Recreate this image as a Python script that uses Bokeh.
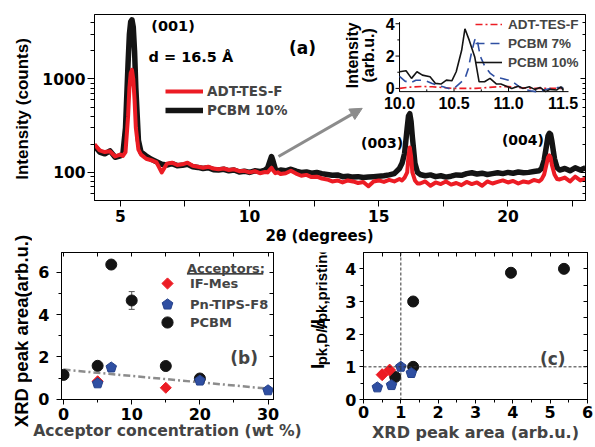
import math
from bokeh.plotting import figure
from bokeh.layouts import column, row
from bokeh.models import (Range1d, LinearScale, LogAxis, LinearAxis, FixedTicker,
                          PrintfTickFormatter, Legend, LegendItem, Label, Arrow, Title,
                          NormalHead, Span, Whisker, TeeHead, ColumnDataSource)
from bokeh.embed import file_html
from bokeh.resources import INLINE
from bokeh.core.properties import value

# ------------------------------------------------------------------ data
# (a) XRD scans, 2theta (deg) vs intensity (counts)
two_theta = [4.0, 4.2, 4.4, 4.6, 4.8, 5.0,
             5.1, 5.2, 5.3, 5.35, 5.4, 5.45, 5.5, 5.55, 5.6, 5.7, 5.8,
             6.0, 6.2, 6.4, 6.6, 6.8, 7.0, 7.2, 7.4, 7.6, 7.8, 8.0, 8.2, 8.4, 8.6, 8.8,
             9.0, 9.2, 9.4, 9.6, 9.8, 10.0, 10.2, 10.4, 10.6,
             10.7, 10.8, 10.85, 10.9, 11.0, 11.1,
             11.2, 11.4, 11.6, 11.8, 12.0, 12.2, 12.4, 12.6, 12.8, 13.0, 13.2, 13.4,
             13.6, 13.8, 14.0, 14.2, 14.4, 14.6, 14.8, 15.0, 15.2, 15.4, 15.6, 15.8,
             15.9, 16.0, 16.1, 16.15, 16.2, 16.25, 16.3, 16.4, 16.5,
             16.6, 16.8, 17.0, 17.2, 17.4, 17.6, 17.8, 18.0, 18.2, 18.4, 18.6, 18.8,
             19.0, 19.2, 19.4, 19.6, 19.8, 20.0, 20.2, 20.4, 20.6, 20.8, 21.0, 21.2,
             21.3, 21.4, 21.5, 21.55, 21.6, 21.65, 21.7, 21.8, 21.9,
             22.0, 22.2, 22.4, 22.6, 22.8, 23.0]
int_adt = [200, 172, 165, 168, 148, 155,
           150, 165, 400, 800, 1150, 1250, 1000, 600, 300, 175, 155,
           140, 135, 128, 100, 124, 127, 120, 122, 127, 118, 115, 112, 115, 110, 108,
           110, 106, 108, 103, 104, 100, 103, 98, 101,
           100, 108, 112, 106, 98, 100,
           96, 98, 104, 97, 92, 94, 89, 90, 86, 84, 80, 82,
           78, 82, 80, 77, 79, 71, 80, 82, 79, 83, 80, 85,
           82, 88, 100, 150, 185, 150, 100, 82, 76,
           76, 80, 72, 78, 75, 80, 74, 77, 73, 79, 75, 78,
           72, 80, 76, 79, 82, 78, 81, 76, 80, 78, 83, 80,
           84, 95, 125, 145, 152, 145, 120, 95, 85,
           84, 88, 80, 90, 82, 86]
int_pcbm10 = [192, 165, 158, 170, 145, 150,
              160, 300, 1500, 3000, 4100, 4300, 3600, 2000, 800, 220, 165,
              150, 138, 130, 122, 120, 124, 118, 119, 122, 115, 113, 110, 112, 107, 106,
              108, 104, 106, 101, 103, 100, 104, 102, 106,
              112, 135, 148, 135, 108, 104,
              106, 104, 108, 103, 100, 101, 98, 100, 97, 95, 93, 94,
              90, 91, 89, 90, 88, 89, 90, 91, 92, 94, 97, 110,
              125, 160, 300, 400, 425, 350, 240, 125, 100,
              95, 92, 94, 90, 92, 89, 91, 94, 93, 97, 99, 96,
              98, 95, 97, 99, 97, 100, 98, 101, 99, 100, 102, 104,
              110, 135, 200, 245, 262, 255, 215, 140, 112,
              106, 110, 104, 112, 106, 112]

# inset of (a): zoom on 10-11.5 deg, intensity (arb.u.)
ins_x_adt = [10.0, 10.1, 10.2, 10.3, 10.4, 10.5, 10.6, 10.7, 10.8, 10.9, 11.0, 11.1, 11.2, 11.3, 11.4, 11.5]
ins_y_adt = [0.0, 0.08, 0.12, 0.1, 0.05, 0.0, 0.0, 0.0, 0.05, 0.1, 0.12, 0.05, 0.0, 0.0, 0.0, 0.0]
ins_x_p7 = [10.0, 10.05, 10.1, 10.15, 10.2, 10.25, 10.3, 10.35, 10.4, 10.45, 10.5, 10.55, 10.6, 10.63,
            10.66, 10.69, 10.71, 10.74, 10.78, 10.83, 10.88, 10.95, 11.0, 11.05, 11.1, 11.15, 11.2,
            11.25, 11.3, 11.35, 11.4, 11.45, 11.5]
ins_y_p7 = [0.75, 0.45, 0.35, 0.5, 0.5, 0.45, 0.3, 0.2, 0.1, 0.0, 0.0, 0.3, 0.6, 1.2,
            2.2, 3.0, 3.1, 2.0, 1.4, 0.95, 0.7, 0.6, 0.5, 0.35, 0.1, -0.05, -0.15,
            -0.2, -0.15, -0.05, 0.0, 0.05, 0.05]
ins_x_p10 = [10.0, 10.06, 10.11, 10.16, 10.21, 10.28, 10.33, 10.38, 10.43, 10.48, 10.52, 10.57,
             10.60, 10.64, 10.69, 10.73, 10.78, 10.83, 10.89, 10.93, 10.98, 11.03, 11.09, 11.13,
             11.19, 11.24, 11.29, 11.34, 11.38, 11.44, 11.48, 11.5]
ins_y_p10 = [1.03, 1.09, 0.62, 1.03, 0.82, 0.72, 0.31, 0.27, 0.51, 0.47, 1.03, 2.36,
             3.69, 2.97, 1.95, 0.41, 0.41, 0.62, 0.27, 0.27, 0.14, 0.0, 0.14, 0.0,
             0.1, -0.06, 0.06, -0.2, -0.06, -0.1, 0.1, -0.1]
ins_xticks = [10.0, 10.5, 11.0, 11.5]
ins_xtick_labels = ["10.0", "10.5", "11.0", "11.5"]
ins_xminor = [10.25, 10.75, 11.25]
ins_yticks = [0, 2, 4]
ins_ytick_labels = ["0", "2", "4"]
ins_yminor = [1, 3]

# (b) XRD peak area vs acceptor concentration (wt %)
conc_pcbm = [0, 5, 7, 10, 15, 20]
area_pcbm = [1.15, 1.58, 6.37, 4.67, 1.57, 0.98]
err_pcbm = [0, 0, 0, 0.42, 0, 0]
conc_ifmes = [5, 15]
area_ifmes = [0.85, 0.54]
conc_pn = [5, 7, 20, 30]
area_pn = [0.75, 1.5, 0.88, 0.42]
fit_conc = [0, 30]
fit_area = [1.4, 0.5]

# (c) Ipk ratio vs XRD peak area
c_area_pcbm = [3.95, 5.37, 1.33, 1.33, 0.85]
c_ratio_pcbm = [3.88, 4.0, 3.0, 1.0, 0.69]
c_area_ifmes = [0.5, 0.7]
c_ratio_ifmes = [0.76, 0.9]
c_area_pn = [1.0, 1.28, 0.37, 0.75]
c_ratio_pn = [1.0, 0.81, 0.37, 0.44]

# ------------------------------------------------------------------ style
RED = "#ec1c24"
BLACK = "#141414"
BLUE = "#2f4fa2"
BLUE_EDGE = "#24408a"
GRAY = "#8c8c8c"
HF = "DejaVu Sans"
VF = "Liberation Sans"


def base_fig(**kw):
    p = figure(output_backend="svg", toolbar_location=None,
               background_fill_color="white", border_fill_color="white",
               outline_line_color="black", outline_line_width=1, **kw)
    p.grid.visible = False
    return p


def text_strip(width, height, x0, y0):
    """blank figure whose data coordinates are page pixels (y grows downward)"""
    s = figure(width=width, height=height, x_range=Range1d(x0, x0 + width),
               y_range=Range1d(y0 + height, y0), output_backend="svg", toolbar_location=None,
               x_axis_location=None, y_axis_location=None, min_border=0,
               min_border_left=0, min_border_right=0, min_border_top=0, min_border_bottom=0,
               outline_line_color=None, background_fill_color="white",
               border_fill_color="white")
    s.grid.visible = False
    return s


def title_strip(width, height, text, size, mb_top, mb_bottom, standoff):
    """narrow figure carrying only a vertical axis title"""
    s = figure(width=width, height=height, x_range=Range1d(0, 1), y_range=Range1d(0, 1),
               output_backend="svg", toolbar_location=None, x_axis_location=None,
               y_axis_location="left", min_border_left=width - 1, min_border_right=0,
               min_border_top=mb_top, min_border_bottom=mb_bottom, outline_line_color=None,
               background_fill_color="white", border_fill_color="white")
    s.grid.visible = False
    ax = s.yaxis[0]
    ax.ticker = FixedTicker(ticks=[])
    ax.major_tick_out = 0
    ax.major_tick_in = 0
    ax.minor_tick_out = 0
    ax.minor_tick_in = 0
    ax.axis_line_color = None
    ax.major_label_text_font_size = "1px"
    ax.major_label_text_alpha = 0
    ax.major_label_standoff = 0
    ax.axis_label = text
    ax.axis_label_text_font = VF
    ax.axis_label_text_font_style = "bold"
    ax.axis_label_text_font_size = size
    ax.axis_label_text_color = "black"
    ax.axis_label_standoff = standoff
    return s


def style_main_axis(ax, size, tick_out, minor_out, standoff):
    ax.major_label_text_font = HF
    ax.major_label_text_font_style = "bold"
    ax.major_label_text_font_size = size
    ax.major_label_text_color = "black"
    ax.major_tick_out = tick_out
    ax.major_tick_in = 0
    ax.minor_tick_out = minor_out
    ax.minor_tick_in = 0
    ax.major_label_standoff = standoff
    ax.axis_line_color = "black"
    ax.major_tick_line_color = "black"
    ax.minor_tick_line_color = "black"


def inner_axis(cls, ticker, tick_in, minor_in=0):
    return cls(ticker=ticker, major_label_text_font_size="1px", major_label_text_alpha=0,
               major_label_standoff=0, major_tick_in=tick_in, major_tick_out=0,
               minor_tick_in=minor_in, minor_tick_out=0, axis_line_color="black")


def diamonds(p, xs, ys, r):
    if hasattr(p, "ngon"):
        return p.ngon(x=xs, y=ys, radius=r, radius_units="screen", n=4,
                      fill_color=RED, line_color=RED)
    return p.scatter(xs, ys, marker="square", angle=math.pi / 4, size=1.4 * r,
                     fill_color=RED, line_color=RED)


def pentagons(p, xs, ys, r):
    if hasattr(p, "ngon"):
        return p.ngon(x=xs, y=ys, radius=r, radius_units="screen", n=5,
                      fill_color=BLUE, line_color=BLUE_EDGE)
    return p.scatter(xs, ys, marker="hex", size=2 * r, fill_color=BLUE, line_color=BLUE_EDGE)


# ------------------------------------------------------------------ left strips: y titles
LW = 32
ps1 = title_strip(LW, 225, "Intensity (counts)", "17px", 0, 8, 0)
ps2 = title_strip(LW, 222, "XRD peak area(arb.u.)", "18.5px", 0, 11, 0)

# ------------------------------------------------------------------ (a)
pa = base_fig(width=595 - LW, height=244, x_range=Range1d(4, 23), y_range=Range1d(50, 4900),
              y_axis_type="log", min_border_left=94 - LW, min_border_right=10,
              min_border_top=14, min_border_bottom=43)
xa = pa.xaxis[0]
xa.ticker = FixedTicker(ticks=[5, 10, 15, 20], minor_ticks=[7.5, 12.5, 17.5, 22.5])
style_main_axis(xa, "15.5px", 6, 6, 3)
pa.add_layout(Title(text="2θ (degrees)", align="left", offset=171, standoff=0,
                    text_font=HF, text_font_style="bold", text_font_size="15px",
                    text_color="black"), "below")
ya = pa.yaxis[0]
y_ticker = FixedTicker(ticks=[100, 1000],
                       minor_ticks=[60, 70, 80, 90, 200, 300, 400, 500, 600, 700, 800, 900,
                                    2000, 3000, 4000])
ya.ticker = y_ticker
ya.formatter = PrintfTickFormatter(format="%d")
style_main_axis(ya, "15.5px", 7, 4, 2)
pa.add_layout(inner_axis(LogAxis, y_ticker, 5, 3), "right")

r_black = pa.line(two_theta, int_pcbm10, line_color=BLACK, line_width=5.5, line_join="round")
r_red = pa.line(two_theta, int_adt, line_color=RED, line_width=4, line_join="round")

leg_a = Legend(items=[LegendItem(label="ADT-TES-F", renderers=[r_red]),
                      LegendItem(label="PCBM 10%", renderers=[r_black])],
               location=(71, 82), glyph_width=38, glyph_height=16, label_height=16,
               spacing=3, padding=0, margin=0, label_standoff=4,
               label_text_font=HF, label_text_font_style="bold", label_text_font_size="13.5px",
               border_line_color=None, background_fill_alpha=0)
pa.add_layout(leg_a, "center")

for txt, x, y, size, align in [("(001)", 7.04, 3666, "14.5px", "center"),
                               ("d = 16.5 Å", 6.09, 1706, "14.5px", "left"),
                               ("(a)", 12.05, 2153, "17px", "center"),
                               ("(003)", 15.13, 205, "14px", "center"),
                               ("(004)", 20.58, 223, "14px", "center")]:
    pa.add_layout(Label(x=x, y=y, text=txt, text_font=HF, text_font_style="bold",
                        text_font_size=size, text_align=align, text_baseline="middle",
                        text_color="black"))

pa.add_layout(Arrow(end=NormalHead(size=12, fill_color=GRAY, line_color=GRAY),
                    x_start=11.12, y_start=148, x_end=14.36, y_end=485,
                    line_color=GRAY, line_width=3))

# inset drawn on its own ranges inside frame (a)
pa.extra_x_ranges = {"ix": Range1d(7.202, 11.706)}
pa.extra_y_ranges = {"iy": Range1d(-6.935, 4.572)}
pa.extra_y_scales = {"iy": LinearScale()}
IR = dict(x_range_name="ix", y_range_name="iy")
X0, Y0 = 10.0, -0.2
pa.segment(x0=[X0, X0], y0=[Y0, Y0], x1=[11.55, X0], y1=[Y0, 4.1], line_color="black",
           line_width=1, **IR)
pa.segment(x0=ins_xticks, y0=[Y0] * len(ins_xticks), x1=ins_xticks,
           y1=[Y0 + 0.25] * len(ins_xticks), line_color="black", line_width=1, **IR)
pa.segment(x0=ins_xminor, y0=[Y0] * len(ins_xminor), x1=ins_xminor,
           y1=[Y0 + 0.14] * len(ins_xminor), line_color="black", line_width=1, **IR)
pa.segment(x0=[X0 - 0.037] * len(ins_yticks), y0=ins_yticks, x1=[X0] * len(ins_yticks),
           y1=ins_yticks, line_color="black", line_width=1, **IR)
pa.segment(x0=[X0 - 0.02] * len(ins_yminor), y0=ins_yminor, x1=[X0] * len(ins_yminor),
           y1=ins_yminor, line_color="black", line_width=1, **IR)
pa.text(x=ins_xticks, y=[-0.93] * len(ins_xticks), text=ins_xtick_labels,
        text_font=value(VF), text_font_style="bold", text_font_size="16px",
        text_align="center", text_baseline="middle", text_color="black", **IR)
pa.text(x=[9.955] * len(ins_yticks), y=ins_yticks, text=ins_ytick_labels,
        text_font=value(VF), text_font_style="bold", text_font_size="16px",
        text_align="right", text_baseline="middle", text_color="black", **IR)
pa.text(x=[9.569, 9.716], y=[2.05, 2.05], text=["Intensity", "(arb.u.)"], angle=math.pi / 2,
        text_font=value(VF), text_font_style="bold", text_font_size="16px",
        text_align="center", text_baseline="middle", text_color="black", **IR)

ri_adt = pa.line(ins_x_adt, ins_y_adt, line_color=RED, line_width=1.6, line_dash="7 3 2 3", **IR)
ri_p7 = pa.line(ins_x_p7, ins_y_p7, line_color=BLUE, line_width=1.6, line_dash="9 6", **IR)
ri_p10 = pa.line(ins_x_p10, ins_y_p10, line_color=BLACK, line_width=1.6, **IR)

leg_i = Legend(items=[LegendItem(label="ADT-TES-F", renderers=[ri_adt]),
                      LegendItem(label="PCBM 7%", renderers=[ri_p7]),
                      LegendItem(label="PCBM 10%", renderers=[ri_p10])],
               location=(381, 130), glyph_width=27, glyph_height=16, label_height=16,
               spacing=3, padding=0, margin=0, label_standoff=6,
               label_text_font=VF, label_text_font_style="bold", label_text_font_size="13.5px",
               border_line_color=None, background_fill_alpha=0)
pa.add_layout(leg_i, "center")

# ------------------------------------------------------------------ (b)
PB_RIGHT = 302
pb = base_fig(width=PB_RIGHT - LW, height=203, x_range=Range1d(-0.3, 30.8),
              y_range=Range1d(-0.014, 6.94), min_border_left=61 - LW,
              min_border_right=PB_RIGHT - 273, min_border_top=8, min_border_bottom=45)
xb = pb.xaxis[0]
xb.ticker = FixedTicker(ticks=[0, 10, 20, 30], minor_ticks=[5, 15, 25])
style_main_axis(xb, "16px", 5, 3, 3)
xb.axis_label = "Acceptor concentration (wt %)"
xb.axis_label_text_font = HF
xb.axis_label_text_font_style = "bold"
xb.axis_label_text_font_size = "15.6px"
xb.axis_label_standoff = -1
yb = pb.yaxis[0]
yb.ticker = FixedTicker(ticks=[0, 2, 4, 6], minor_ticks=[1, 3, 5])
style_main_axis(yb, "16px", 5, 3, 7)
pb.add_layout(inner_axis(LinearAxis, FixedTicker(ticks=[0, 5, 10, 15, 20, 25, 30]), 4), "above")
pb.add_layout(inner_axis(LinearAxis, FixedTicker(ticks=[0, 1, 2, 3, 4, 5, 6]), 4), "right")

pb.line(fit_conc, fit_area, line_color=GRAY, line_width=2.5, line_dash="7 3 2 3")
err_idx = [i for i, e in enumerate(err_pcbm) if e > 0]
wsrc = ColumnDataSource(dict(base=[conc_pcbm[i] for i in err_idx],
                             upper=[area_pcbm[i] + err_pcbm[i] for i in err_idx],
                             lower=[area_pcbm[i] - err_pcbm[i] for i in err_idx]))
pb.add_layout(Whisker(source=wsrc, base="base", upper="upper", lower="lower",
                      line_color="#555555", line_width=1,
                      upper_head=TeeHead(size=6, line_color="#555555", line_width=1),
                      lower_head=TeeHead(size=6, line_color="#555555", line_width=1)))
rb_pc = pb.scatter(conc_pcbm, area_pcbm, marker="circle", size=11, fill_color=BLACK,
                   line_color=BLACK)
rb_if = diamonds(pb, conc_ifmes, area_ifmes, 5.5)
rb_pn = pentagons(pb, conc_pn, area_pn, 5.5)

for lbl, rend, yoff in [("IF-Mes", rb_if, 102), ("Pn-TIPS-F8", rb_pn, 81), ("PCBM", rb_pc, 63)]:
    pb.add_layout(Legend(items=[LegendItem(label=lbl, renderers=[rend])],
                         location=(92, yoff), glyph_width=28, glyph_height=28, label_height=16,
                         spacing=0, padding=0, margin=0, label_standoff=9,
                         label_text_font=HF, label_text_font_style="bold",
                         label_text_font_size="13px", border_line_color=None,
                         background_fill_alpha=0), "center")
pb.add_layout(Label(x=18.1, y=6.17, text="Acceptors:", text_font=HF, text_font_style="bold",
                    text_font_size="13px", text_align="left", text_baseline="alphabetic"))
pb.segment(x0=[18.1], y0=[5.93], x1=[29.3], y1=[5.93], line_color="black", line_width=1.3)
pb.add_layout(Label(x=26.5, y=1.93, text="(b)", text_font=HF, text_font_style="bold",
                    text_font_size="17px", text_align="center", text_baseline="middle"))

# ------------------------------------------------------------------ (c) y-axis title strip
PL_W = 330 - PB_RIGHT
pl = text_strip(PL_W, 203, PB_RIGHT, 244)
AW = {"I": .278, "p": .611, "k": .556, ",": .278, "D": .722, "/": .278, "A": .722,
      "r": .389, "i": .278, "s": .556, "t": .333, "n": .611, "e": .556}
ylab_parts = ["I", "pk,D/A", "/I", "pk,pristine"]
ylab_sizes = [18.5, 15, 18.5, 15]
ylab_base = [316.5, 320.5, 316.5, 320.5]
ylab_gap = [0, 2, 0, 0]
pos = 405.0
ylab_y = []
for txt, fs, gap in zip(ylab_parts, ylab_sizes, ylab_gap):
    ylab_y.append(pos)
    pos -= sum(AW[c] for c in txt) * fs + gap
for fs in sorted(set(ylab_sizes)):
    idx = [i for i, s in enumerate(ylab_sizes) if s == fs]
    pl.text(x=[ylab_base[i] for i in idx], y=[ylab_y[i] for i in idx],
            text=[ylab_parts[i] for i in idx], angle=math.pi / 2,
            text_font=value(VF), text_font_style="bold", text_font_size=f"{fs}px",
            text_align="left", text_baseline="alphabetic", text_color="black")

# ------------------------------------------------------------------ (c)
pc = base_fig(width=265, height=203, x_range=Range1d(0, 6), y_range=Range1d(0, 4.5),
              min_border_left=33, min_border_right=8, min_border_top=4, min_border_bottom=48)
xc = pc.xaxis[0]
half_x = [0.5, 1.5, 2.5, 3.5, 4.5, 5.5]
xc.ticker = FixedTicker(ticks=[0, 1, 2, 3, 4, 5, 6], minor_ticks=half_x)
style_main_axis(xc, "16px", 4, 3, 2)
xc.axis_label = "XRD peak area (arb.u.)"
xc.axis_label_text_font = HF
xc.axis_label_text_font_style = "bold"
xc.axis_label_text_font_size = "16px"
xc.axis_label_standoff = 2
yc = pc.yaxis[0]
yc.ticker = FixedTicker(ticks=[0, 1, 2, 3, 4], minor_ticks=[0.5, 1.5, 2.5, 3.5])
style_main_axis(yc, "16px", 4, 3, 3)
pc.add_layout(inner_axis(LinearAxis, FixedTicker(ticks=[0, 0.5, 1, 1.5, 2, 2.5, 3, 3.5, 4, 4.5,
                                                        5, 5.5, 6]), 4), "above")
pc.add_layout(inner_axis(LinearAxis, FixedTicker(ticks=[0, 0.5, 1, 1.5, 2, 2.5, 3, 3.5, 4]), 4),
              "right")
pc.add_layout(Span(location=1, dimension="width", line_color="#333333", line_width=1,
                   line_dash="3 2"))
pc.add_layout(Span(location=1, dimension="height", line_color="#333333", line_width=1,
                   line_dash="3 2"))
pc.scatter(c_area_pcbm, c_ratio_pcbm, marker="circle", size=11, fill_color=BLACK,
           line_color=BLACK)
diamonds(pc, c_area_ifmes, c_ratio_ifmes, 6)
pentagons(pc, c_area_pn, c_ratio_pn, 5.5)
pc.add_layout(Label(x=5.07, y=1.25, text="(c)", text_font=HF, text_font_style="bold",
                    text_font_size="17px", text_align="center", text_baseline="middle"))

layout = row(column(ps1, ps2), column(pa, row(pb, pl, pc)))
open("out.html", "w").write(file_html(layout, INLINE))
